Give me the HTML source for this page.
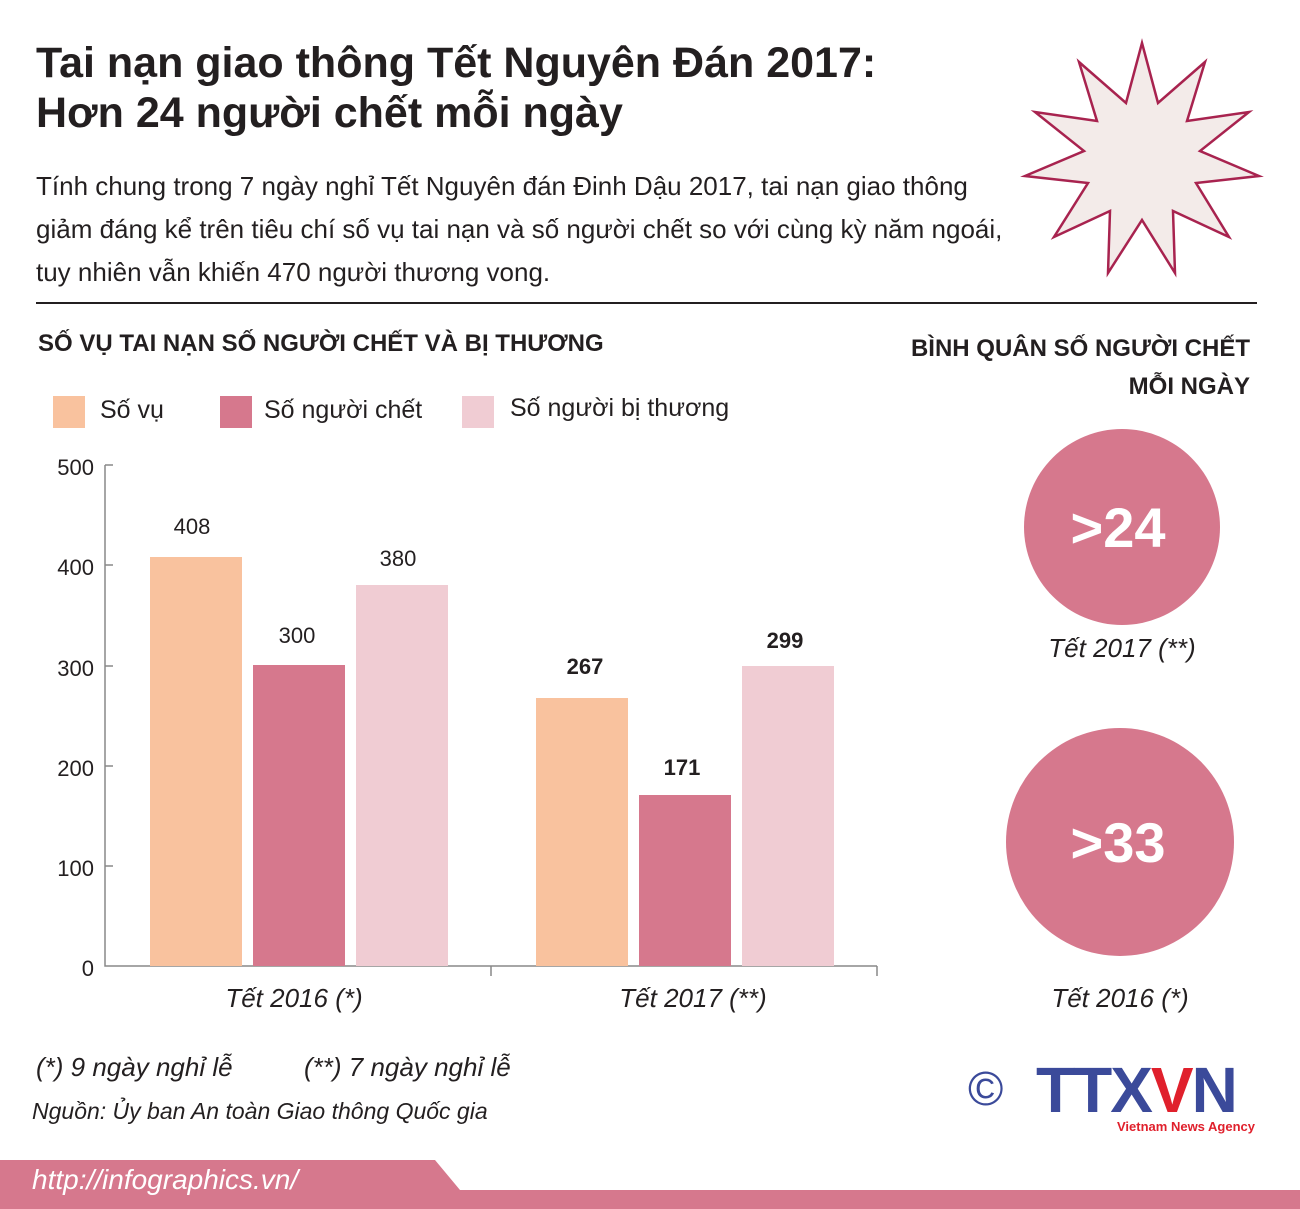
<!DOCTYPE html>
<html><head><meta charset="utf-8"><style>
html,body{margin:0;width:1300px;height:1209px;overflow:hidden}
body{background:#fff;position:relative;font-family:"Liberation Sans","DejaVu Sans",sans-serif;color:#231f20}
.a{position:absolute;white-space:nowrap}
</style></head><body>
<div class="a" style="left:36px;top:38px;font-size:43px;font-weight:bold;line-height:50px">Tai nạn giao thông Tết Nguyên Đán 2017:<br>Hơn 24 người chết mỗi ngày</div>
<div class="a" style="left:36px;top:165px;font-size:26px;line-height:43px">Tính chung trong 7 ngày nghỉ Tết Nguyên đán Đinh Dậu 2017, tai nạn giao thông<br>giảm đáng kể trên tiêu chí số vụ tai nạn và số người chết so với cùng kỳ năm ngoái,<br>tuy nhiên vẫn khiến 470 người thương vong.</div>
<div class="a" style="left:36px;top:302px;width:1221px;height:2px;background:#231f20"></div>
<svg class="a" style="left:0;top:0" width="1300" height="1209">
<polygon fill="#f3ebe9" stroke="#a8234f" stroke-width="2.5" points="1142,43 1158,103 1205,62 1187,121 1249,112 1200,151 1259,176 1196,183 1229,237 1173,211 1175,273 1142,220 1108,273 1110,211 1054,237 1088,183 1025,176 1084,151 1035,112 1097,121 1079,62 1126,103"/>
<g stroke="#888" stroke-width="1.5" fill="none"><path d="M105,465V966H877M105,465h8M105,565h8M105,666h8M105,766h8M105,866h8M491,966v10M877,966v10"/></g>
<rect x="150" y="557" width="92" height="409" fill="#f9c29e"/>
<rect x="253" y="665" width="92" height="301" fill="#d6788d"/>
<rect x="356" y="585" width="92" height="381" fill="#f0ccd3"/>
<rect x="536" y="698" width="92" height="268" fill="#f9c29e"/>
<rect x="639" y="795" width="92" height="171" fill="#d6788d"/>
<rect x="742" y="666" width="92" height="300" fill="#f0ccd3"/>
<rect x="53" y="396" width="32" height="32" fill="#f9c29e"/>
<rect x="220" y="396" width="32" height="32" fill="#d6788d"/>
<rect x="462" y="396" width="32" height="32" fill="#f0ccd3"/>
<circle cx="1122" cy="527" r="98" fill="#d6788d"/>
<circle cx="1120" cy="842" r="114" fill="#d6788d"/>
<polygon fill="#d6788d" points="0,1160 435,1160 460,1190 1300,1190 1300,1209 0,1209"/>
</svg>
<div class="a" style="left:38px;top:330px;font-size:24px;font-weight:bold">SỐ VỤ TAI NẠN SỐ NGƯỜI CHẾT VÀ BỊ THƯƠNG</div>
<div class="a" style="left:850px;top:330px;width:400px;text-align:right;font-size:24px;font-weight:bold;line-height:38px">BÌNH QUÂN SỐ NGƯỜI CHẾT<br>MỖI NGÀY</div>
<div class="a" style="left:100px;top:396px;font-size:25px">Số vụ</div>
<div class="a" style="left:264px;top:396px;font-size:25px">Số người chết</div>
<div class="a" style="left:510px;top:394px;font-size:25px">Số người bị thương</div>
<div class="a" style="left:20px;top:418px;width:74px;text-align:right;font-size:22px;line-height:100.3px">500<br>400<br>300<br>200<br>100<br>0</div>
<div class="a" style="left:146px;top:514px;width:92px;text-align:center;font-size:22px">408</div>
<div class="a" style="left:251px;top:623px;width:92px;text-align:center;font-size:22px">300</div>
<div class="a" style="left:352px;top:546px;width:92px;text-align:center;font-size:22px">380</div>
<div class="a" style="left:539px;top:654px;width:92px;text-align:center;font-size:22px;font-weight:bold">267</div>
<div class="a" style="left:636px;top:755px;width:92px;text-align:center;font-size:22px;font-weight:bold">171</div>
<div class="a" style="left:739px;top:628px;width:92px;text-align:center;font-size:22px;font-weight:bold">299</div>
<div class="a" style="left:194px;top:983px;width:200px;text-align:center;font-size:26px;font-style:italic">Tết 2016 (*)</div>
<div class="a" style="left:593px;top:983px;width:200px;text-align:center;font-size:26px;font-style:italic">Tết 2017 (**)</div>
<div class="a" style="left:1018px;top:495px;width:200px;text-align:center;font-size:56px;font-weight:bold;color:#fff">&gt;24</div>
<div class="a" style="left:1018px;top:810px;width:200px;text-align:center;font-size:56px;font-weight:bold;color:#fff">&gt;33</div>
<div class="a" style="left:1022px;top:633px;width:200px;text-align:center;font-size:26px;font-style:italic">Tết 2017 (**)</div>
<div class="a" style="left:1020px;top:983px;width:200px;text-align:center;font-size:26px;font-style:italic">Tết 2016 (*)</div>
<div class="a" style="left:36px;top:1052px;font-size:26px;font-style:italic">(*) 9 ngày nghỉ lễ</div>
<div class="a" style="left:304px;top:1052px;font-size:26px;font-style:italic">(**) 7 ngày nghỉ lễ</div>
<div class="a" style="left:32px;top:1098px;font-size:23px;font-style:italic">Nguồn: Ủy ban An toàn Giao thông Quốc gia</div>
<div class="a" style="left:968px;top:1062px;font-size:48px;color:#3b4a9a;line-height:56px">©</div>
<div class="a" style="left:1036px;top:1055px;font-size:64px;font-weight:900;color:#3b4a9a;letter-spacing:-2px;line-height:70px">TTX<span style="color:#e0202c">V</span>N</div>
<div class="a" style="left:1117px;top:1119px;font-size:13px;font-weight:bold;color:#e0202c">Vietnam News Agency</div>
<div class="a" style="left:32px;top:1164px;font-size:28px;font-style:italic;color:#fff">http://infographics.vn/</div>
</body></html>
